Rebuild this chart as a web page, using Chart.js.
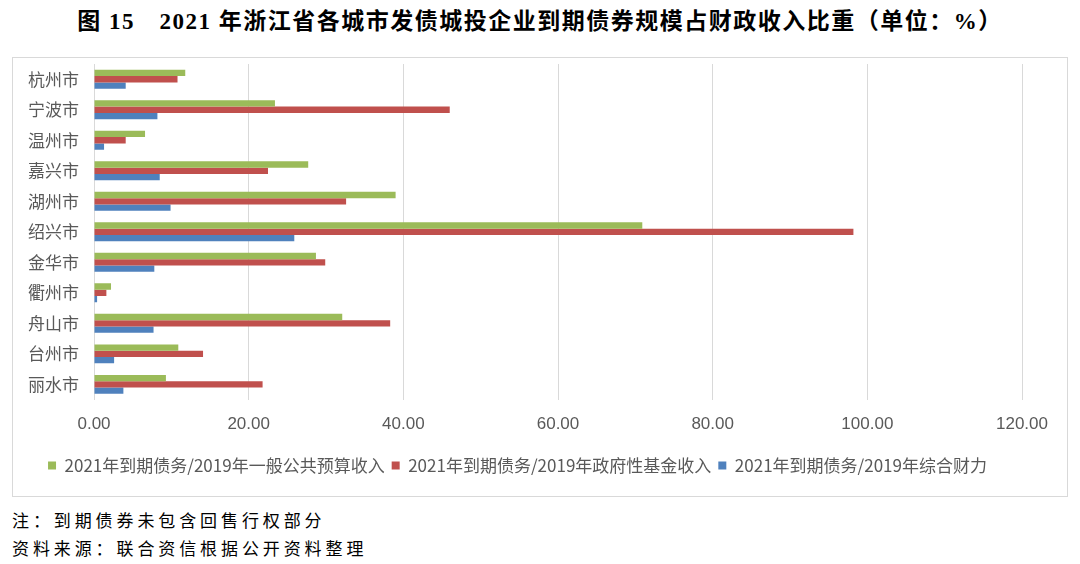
<!DOCTYPE html>
<html><head><meta charset="utf-8">
<script src="https://cdn.jsdelivr.net/npm/chart.js@4.4.0/dist/chart.umd.min.js"></script>
<style>
html,body{margin:0;padding:0;background:#fff;width:1080px;height:564px;overflow:hidden;}
#title{position:absolute;left:0;top:2px;width:1080px;text-align:center;font-family:"Liberation Serif","Noto Sans CJK SC",serif;font-size:23px;font-weight:bold;color:#000;letter-spacing:1.5px;white-space:nowrap;}
#box{position:absolute;left:12px;top:57px;width:1054px;height:438px;border:1px solid #d9d9d9;}
#wrap{position:absolute;left:0;top:0;width:1054px;height:438px;}
.note{position:absolute;left:12px;font-family:"Noto Sans CJK SC",sans-serif;font-size:17px;color:#000;letter-spacing:3.9px;white-space:nowrap;}
</style></head>
<body>
<div id="title">图 15　2021 年浙江省各城市发债城投企业到期债券规模占财政收入比重（单位：%）</div>
<div id="box"><div id="wrap"><canvas id="c"></canvas></div></div>
<div class="note" style="top:507px">注：到期债券未包含回售行权部分</div>
<div class="note" style="top:535px">资料来源：联合资信根据公开资料整理</div>
<script>
const categories = ["杭州市","宁波市","温州市","嘉兴市","湖州市","绍兴市","金华市","衢州市","舟山市","台州市","丽水市"];
const seriesNames = ["2021年到期债务/2019年一般公共预算收入","2021年到期债务/2019年政府性基金收入","2021年到期债务/2019年综合财力"];
const generalBudget = [11.8, 23.4, 6.6, 27.7, 39.0, 70.9, 28.7, 2.2, 32.1, 10.9, 9.3];
const govFund = [10.8, 46.0, 4.1, 22.5, 32.6, 98.2, 29.9, 1.6, 38.3, 14.1, 21.8];
const comprehensive = [4.1, 8.2, 1.3, 8.5, 9.9, 25.9, 7.8, 0.4, 7.7, 2.6, 3.8];
const xTicks = [0, 20, 40, 60, 80, 100, 120];

new Chart(document.getElementById('c'), {
  type: 'bar',
  data: {
    labels: categories,
    datasets: [
      {label: seriesNames[0], data: generalBudget, backgroundColor: '#9bbb59'},
      {label: seriesNames[1], data: govFund, backgroundColor: '#c0504d'},
      {label: seriesNames[2], data: comprehensive, backgroundColor: '#4f81bd'}
    ]
  },
  options: {
    indexAxis: 'y',
    responsive: true,
    maintainAspectRatio: false,
    animation: false,
    layout: {padding: {left: 0, right: 45, top: 6, bottom: 12}},
    datasets: {bar: {categoryPercentage: 0.62, barPercentage: 1.0}},
    scales: {
      x: {
        min: 0, max: 120,
        afterBuildTicks: s => { s.ticks = xTicks.map(v => ({value: v})); },
        ticks: {color: '#595959', font: {family: '"Liberation Sans Narrow","Liberation Sans",sans-serif', size: 17}, padding: 15, callback: v => Number(v).toFixed(2)},
        grid: {color: '#d9d9d9', drawTicks: false},
        border: {display: false}
      },
      y: {
        afterFit: s => { s.width = 81; s.paddingTop = 0; s.paddingBottom = 0; },
        ticks: {color: '#595959', font: {family: '"Noto Sans CJK SC",sans-serif', size: 17}, padding: 15},
        grid: {display: false, drawTicks: false},
        border: {display: true, color: '#d9d9d9'}
      }
    },
    plugins: {
      legend: {
        position: 'bottom',
        labels: {color: '#595959', font: {family: '"Liberation Sans Narrow","Noto Sans CJK SC",sans-serif', size: 17}, boxWidth: 8, boxHeight: 8, padding: 7}
      },
      tooltip: {enabled: false}
    }
  }
});
</script>
</body></html>
